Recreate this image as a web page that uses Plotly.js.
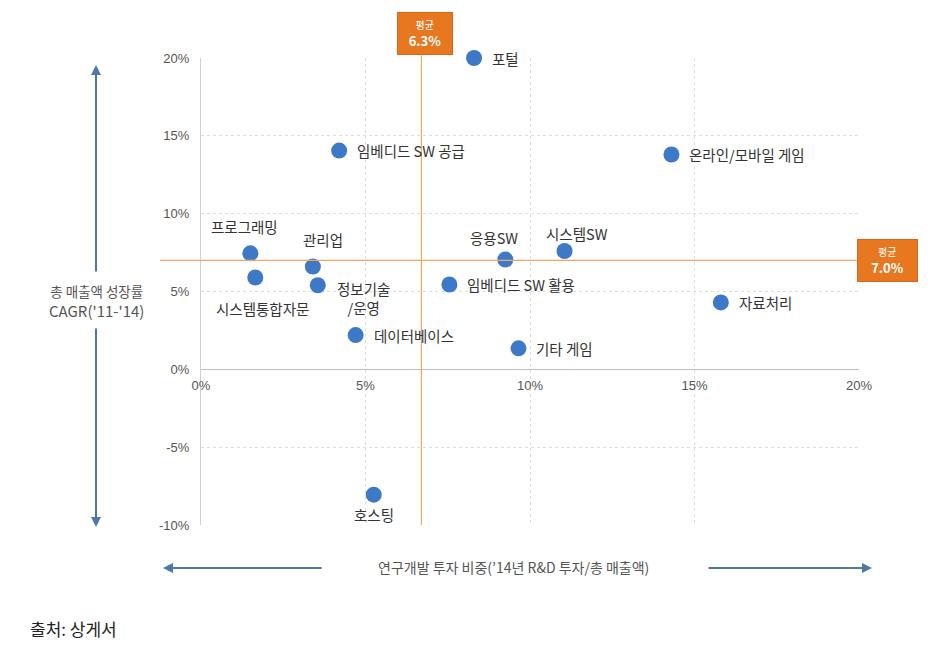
<!DOCTYPE html>
<html><head><meta charset="utf-8">
<script src="https://cdn.plot.ly/plotly-3.0.1.min.js"></script>
<style>html,body{margin:0;padding:0;background:#fff;}#chart{width:945px;height:647px;}</style>
</head><body><div id="chart"></div>
<script>
// Data
var industries = ['포털','임베디드 SW 공급','온라인/모바일 게임','프로그래밍','시스템통합자문','관리업','정보기술<br>/운영','데이터베이스','임베디드 SW 활용','응용SW','시스템SW','자료처리','기타 게임','호스팅'];
var rdShare    = [8.3, 4.2, 14.3, 1.5, 1.65, 3.4, 3.55, 4.7, 7.55, 9.25, 11.05, 15.8, 9.65, 5.25];
var cagr       = [20.0, 14.05, 13.8, 7.45, 5.9, 6.6, 5.4, 2.2, 5.45, 7.05, 7.6, 4.3, 1.35, -8.05];
var avgXLine = 6.7, avgXLabel = '6.3%';
var avgYLine = 7.0, avgYLabel = '7.0%';
var xTicks = [0,5,10,15,20];
var yTicks = [-10,-5,0,5,10,15,20];

// label styling (anchor, xshift, yshift)
var lblAnchor = ['left','left','left','center','center','center','left','left','left','center','center','left','left','center'];
var lblDx     = [16, 16, 16, -6, 7, 10, 17, 16, 16, -11, 12, 16, 16, 0];
var lblDy     = [0, 0, 0, 27, -31, 27, -13, 0, 0, 22, 18, 0, 0, -20];

var FONT = 'Noto Sans CJK KR, sans-serif';
var markerColor = '#3d79c6';
var orange = '#f2a65e';
var arrowColor = '#4f77a8';

var trace = {
  type:'scatter', mode:'markers', x: rdShare, y: cagr, text: industries,
  marker:{size:16, color: markerColor}, hoverinfo:'text', cliponaxis:false
};

var ann = [];
for (var i=0;i<industries.length;i++){
  ann.push({xref:'x', yref:'y', x: rdShare[i], y: cagr[i], text: industries[i], showarrow:false,
    xanchor: lblAnchor[i], yanchor:'middle', xshift: lblDx[i], yshift: lblDy[i],
    font:{family:FONT, size:14.5, color:'#333'}});
}
// average label boxes
ann.push({xref:'x', yref:'paper', x: avgXLine, y: (525-33.5)/467, xshift:4, showarrow:false,
  xanchor:'center', yanchor:'middle', width:52, height:39, borderpad:1,
  text:'<span style="font-size:10px">평균</span><br><b>'+avgXLabel+'</b>',
  font:{family:FONT, size:13, color:'#fff'},
  bgcolor:'#e8781f', bordercolor:'#d9661a', borderwidth:1});
ann.push({xref:'paper', yref:'y', x: (887-201)/658, y: avgYLine, showarrow:false,
  xanchor:'center', yanchor:'middle', width:57, height:39, borderpad:1,
  text:'<span style="font-size:10px">평균</span><br><b>'+avgYLabel+'</b>',
  font:{family:FONT, size:13, color:'#fff'},
  bgcolor:'#e8781f', bordercolor:'#d9661a', borderwidth:1});
// axis description labels
ann.push({xref:'paper', yref:'paper', x:(96-201)/658, y:(525-301)/467, showarrow:false,
  xanchor:'center', yanchor:'middle',
  text:'<span style="font-size:13.5px">총 매출액 성장률</span><br>CAGR(\'11-\'14)', align:'center',
  font:{family:FONT, size:15, color:'#555'}});
ann.push({xref:'paper', yref:'paper', x:(513-201)/658, y:(525-567)/467, showarrow:false,
  xanchor:'center', yanchor:'middle',
  text:'연구개발 투자 비중(’14년 R&D 투자/총 매출액)',
  font:{family:FONT, size:14, color:'#555'}});
// arrows
var arr = function(x,y,ax,ay){ return {xref:'paper', yref:'paper', x:x, y:y, ax:ax, ay:ay, text:'', showarrow:true,
  arrowhead:2, arrowsize:1, arrowwidth:2, arrowcolor: arrowColor}; };
ann.push(arr((96-201)/658, (525-65)/467, 0, 208));
ann.push(arr((96-201)/658, (525-527)/467, 0, -200));
ann.push(arr((163-201)/658, (525-568)/467, 160, 0));
ann.push(arr((872-201)/658, (525-568)/467, -165, 0));
// source
ann.push({xref:'paper', yref:'paper', x:(28-201)/658, y:(525-628)/467, xanchor:'left', yanchor:'middle', showarrow:false,
  text:'출처: 상게서', font:{family:FONT, size:17, color:'#222'}});

var tickFont = {family:'Liberation Sans, sans-serif', size:13, color:'#555'};
var layout = {
  width:945, height:647, margin:{l:201, r:86, t:58, b:122},
  paper_bgcolor:'#fff', plot_bgcolor:'#fff', showlegend:false,
  xaxis:{range:[0,20], tickvals:xTicks, ticktext:xTicks.map(function(v){return v+'%';}),
    anchor:'free', position:1/3, showline:true, linecolor:'#bdbdbd', linewidth:1,
    showgrid:true, gridcolor:'#dedede', griddash:'3px,3px', zeroline:false, ticks:'',
    ticklabelstandoff:4, tickfont:tickFont},
  yaxis:{range:[-10,20], tickvals:yTicks, ticktext:yTicks.map(function(v){return v+'%';}),
    showline:true, linecolor:'#d0d0d0', linewidth:1,
    showgrid:true, gridcolor:'#dedede', griddash:'3px,3px', zeroline:false, ticks:'',
    ticklabelstandoff:8, tickfont:tickFont},
  shapes:[
    {type:'line', xref:'x', yref:'paper', x0:avgXLine, x1:avgXLine, y0:0, y1:1.006, line:{color:orange, width:1.2}},
    {type:'line', xref:'paper', yref:'y', x0:-0.062, x1:0.998, y0:avgYLine, y1:avgYLine, line:{color:orange, width:1.2}}
  ],
  annotations: ann
};
Plotly.newPlot('chart',[trace],layout,{displayModeBar:false, staticPlot:true});
</script></body></html>
